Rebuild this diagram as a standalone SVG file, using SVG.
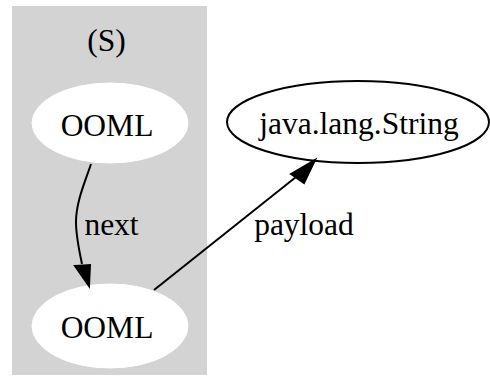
<svg xmlns="http://www.w3.org/2000/svg" width="490" height="381" viewBox="0 0 490 381">
<style>
text{font-family:"Liberation Serif","Times New Roman",serif;font-size:31.5px;fill:#000;text-anchor:middle}
.edge{fill:none;stroke:#000;stroke-width:2}
.head{fill:#000;stroke:#000;stroke-width:2}
</style>
<rect width="490" height="381" fill="#fff"/>
<g id="cluster_S">
<rect x="12" y="6" width="195" height="369" fill="#d3d3d3"/>
<text x="106.5" y="51">(S)</text>
</g>
<g id="node1">
<ellipse cx="110" cy="123" rx="78" ry="40" fill="#fff" stroke="#fff"/>
<text x="107" y="136">OOML</text>
</g>
<g id="node2">
<ellipse cx="110" cy="326" rx="78" ry="42" fill="#fff" stroke="#fff"/>
<text x="107" y="338">OOML</text>
</g>
<g id="node3">
<ellipse cx="358" cy="122" rx="131" ry="41" fill="#fff" stroke="#000" stroke-width="2"/>
<text x="359" y="134">java.lang.String</text>
</g>
<g id="edges">
<path class="edge" d="M91,164 C85,182 76,202 76,222 C76,236 79,250 82,264"/>
<polygon class="head" points="75,266 90,265 89,286"/>
<text x="111.5" y="235">next</text>
<path class="edge" d="M154,290 L296,177"/>
<polygon class="head" points="291,174 304,183 315,160"/>
<text x="304" y="235">payload</text>
</g>
</svg>
